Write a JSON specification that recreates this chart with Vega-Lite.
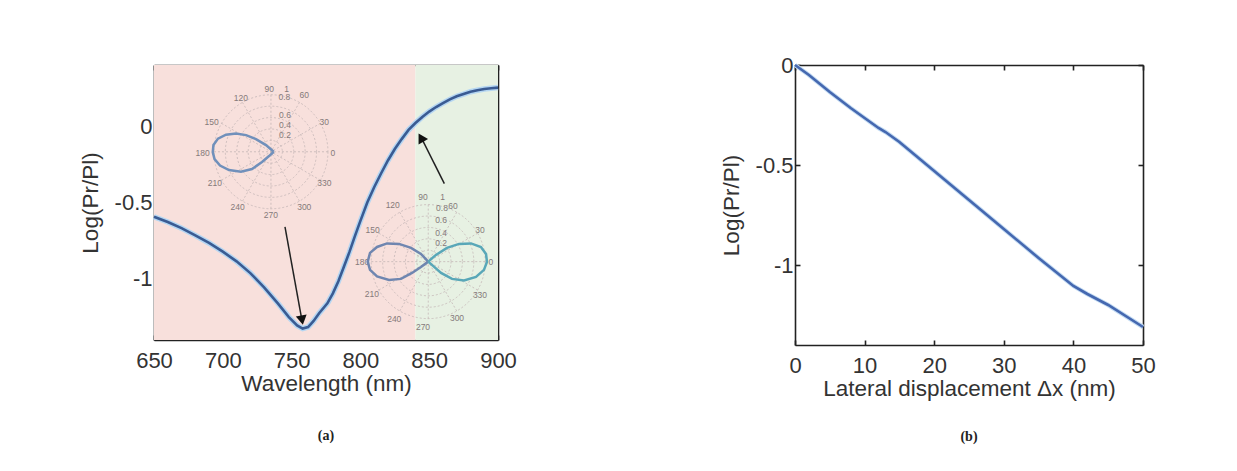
{
  "$schema": "https://vega.github.io/schema/vega-lite/v6.json",
  "padding": {"left": 79, "top": 54, "right": 5, "bottom": 5},
  "background": "white",
  "spacing": 203,
  "datasets": {
    "curveA": [
      {"wl": 650, "logr": -0.593}, {"wl": 660, "logr": -0.628}, {"wl": 670, "logr": -0.668},
      {"wl": 680, "logr": -0.715}, {"wl": 690, "logr": -0.765}, {"wl": 700, "logr": -0.822},
      {"wl": 710, "logr": -0.885}, {"wl": 720, "logr": -0.962}, {"wl": 730, "logr": -1.055},
      {"wl": 740, "logr": -1.16}, {"wl": 748, "logr": -1.25}, {"wl": 754, "logr": -1.305},
      {"wl": 758, "logr": -1.325}, {"wl": 762, "logr": -1.315}, {"wl": 766, "logr": -1.275},
      {"wl": 770, "logr": -1.225}, {"wl": 776, "logr": -1.16}, {"wl": 780, "logr": -1.095},
      {"wl": 784, "logr": -1.015}, {"wl": 788, "logr": -0.92}, {"wl": 792, "logr": -0.825},
      {"wl": 796, "logr": -0.72}, {"wl": 800, "logr": -0.62}, {"wl": 805, "logr": -0.5},
      {"wl": 810, "logr": -0.4}, {"wl": 815, "logr": -0.31}, {"wl": 820, "logr": -0.225},
      {"wl": 825, "logr": -0.15}, {"wl": 830, "logr": -0.085}, {"wl": 835, "logr": -0.025},
      {"wl": 840, "logr": 0.02}, {"wl": 845, "logr": 0.06}, {"wl": 850, "logr": 0.095},
      {"wl": 855, "logr": 0.125}, {"wl": 860, "logr": 0.15}, {"wl": 865, "logr": 0.175},
      {"wl": 870, "logr": 0.195}, {"wl": 875, "logr": 0.21}, {"wl": 880, "logr": 0.225},
      {"wl": 885, "logr": 0.235}, {"wl": 890, "logr": 0.243}, {"wl": 895, "logr": 0.248},
      {"wl": 900, "logr": 0.252}
    ],
    "curveB": [
      {"dx": 0, "logr": 0}, {"dx": 2, "logr": -0.05}, {"dx": 5, "logr": -0.135},
      {"dx": 8, "logr": -0.215}, {"dx": 10, "logr": -0.265}, {"dx": 12, "logr": -0.315},
      {"dx": 13, "logr": -0.335}, {"dx": 15, "logr": -0.385}, {"dx": 20, "logr": -0.53},
      {"dx": 25, "logr": -0.675}, {"dx": 30, "logr": -0.82}, {"dx": 35, "logr": -0.965},
      {"dx": 40, "logr": -1.105}, {"dx": 42, "logr": -1.145}, {"dx": 45, "logr": -1.2},
      {"dx": 50, "logr": -1.31}
    ],
    "regions": [
      {"x1": 650, "x2": 840, "region": "resonant"},
      {"x1": 840, "x2": 900, "region": "transmitted"}
    ],
    "rings": [
      {"inset": "A", "cx": 735.0, "cy": -0.168, "r": 0.2},
      {"inset": "A", "cx": 735.0, "cy": -0.168, "r": 0.4},
      {"inset": "A", "cx": 735.0, "cy": -0.168, "r": 0.6},
      {"inset": "A", "cx": 735.0, "cy": -0.168, "r": 0.8},
      {"inset": "A", "cx": 735.0, "cy": -0.168, "r": 1.0},
      {"inset": "B", "cx": 849.3, "cy": -0.887, "r": 0.2},
      {"inset": "B", "cx": 849.3, "cy": -0.887, "r": 0.4},
      {"inset": "B", "cx": 849.3, "cy": -0.887, "r": 0.6},
      {"inset": "B", "cx": 849.3, "cy": -0.887, "r": 0.8},
      {"inset": "B", "cx": 849.3, "cy": -0.887, "r": 1.0}
    ],
    "spokes": [
      {"x1": 693.6, "y1": -0.168, "x2": 776.4, "y2": -0.168},
      {"x1": 699.1, "y1": -0.354, "x2": 770.9, "y2": 0.018},
      {"x1": 714.3, "y1": -0.491, "x2": 755.7, "y2": 0.155},
      {"x1": 735.0, "y1": -0.541, "x2": 735.0, "y2": 0.205},
      {"x1": 755.7, "y1": -0.491, "x2": 714.3, "y2": 0.155},
      {"x1": 770.9, "y1": -0.354, "x2": 699.1, "y2": 0.018},
      {"x1": 807.9, "y1": -0.887, "x2": 890.7, "y2": -0.887},
      {"x1": 813.4, "y1": -1.073, "x2": 885.2, "y2": -0.701},
      {"x1": 828.6, "y1": -1.21, "x2": 870.0, "y2": -0.564},
      {"x1": 849.3, "y1": -1.26, "x2": 849.3, "y2": -0.514},
      {"x1": 870.0, "y1": -1.21, "x2": 828.6, "y2": -0.564},
      {"x1": 885.2, "y1": -1.073, "x2": 813.4, "y2": -0.701}
    ],
    "polarLabels": [
      {"x": 733.8, "y": 0.246, "label": "90"}, {"x": 713.2, "y": 0.181, "label": "120"},
      {"x": 691.9, "y": 0.028, "label": "150"}, {"x": 685.4, "y": -0.175, "label": "180"},
      {"x": 694.3, "y": -0.375, "label": "210"}, {"x": 710.8, "y": -0.527, "label": "240"},
      {"x": 735.0, "y": -0.582, "label": "270"}, {"x": 759.2, "y": -0.527, "label": "300"},
      {"x": 773.8, "y": -0.375, "label": "330"}, {"x": 779.9, "y": -0.175, "label": "0"},
      {"x": 773.8, "y": 0.028, "label": "30"}, {"x": 759.2, "y": 0.203, "label": "60"},
      {"x": 746.4, "y": 0.246, "label": "1"}, {"x": 744.7, "y": 0.19, "label": "0.8"},
      {"x": 745.2, "y": 0.076, "label": "0.6"}, {"x": 745.2, "y": 0.007, "label": "0.4"},
      {"x": 745.2, "y": -0.059, "label": "0.2"},
      {"x": 845.5, "y": -0.467, "label": "90"}, {"x": 823.5, "y": -0.516, "label": "120"},
      {"x": 808.9, "y": -0.68, "label": "150"}, {"x": 801.2, "y": -0.887, "label": "180"},
      {"x": 808.4, "y": -1.098, "label": "210"}, {"x": 824.6, "y": -1.261, "label": "240"},
      {"x": 845.5, "y": -1.312, "label": "270"}, {"x": 870.2, "y": -1.257, "label": "300"},
      {"x": 886.9, "y": -1.105, "label": "330"}, {"x": 894.9, "y": -0.887, "label": "0"},
      {"x": 886.9, "y": -0.68, "label": "30"}, {"x": 867.3, "y": -0.52, "label": "60"},
      {"x": 859.8, "y": -0.461, "label": "1"}, {"x": 859.3, "y": -0.536, "label": "0.8"},
      {"x": 858.6, "y": -0.614, "label": "0.6"}, {"x": 858.6, "y": -0.697, "label": "0.4"},
      {"x": 858.6, "y": -0.767, "label": "0.2"}
    ],
    "loops": [
      {"loop": "L1", "i": 0, "x": 737.0, "y": -0.168}, {"loop": "L1", "i": 1, "x": 731.4, "y": -0.124},
      {"loop": "L1", "i": 2, "x": 724.1, "y": -0.085}, {"loop": "L1", "i": 3, "x": 716.9, "y": -0.059},
      {"loop": "L1", "i": 4, "x": 709.6, "y": -0.049}, {"loop": "L1", "i": 5, "x": 702.3, "y": -0.056},
      {"loop": "L1", "i": 6, "x": 696.5, "y": -0.082}, {"loop": "L1", "i": 7, "x": 693.2, "y": -0.124},
      {"loop": "L1", "i": 8, "x": 692.7, "y": -0.17}, {"loop": "L1", "i": 9, "x": 694.0, "y": -0.216},
      {"loop": "L1", "i": 10, "x": 698.0, "y": -0.258}, {"loop": "L1", "i": 11, "x": 704.5, "y": -0.288},
      {"loop": "L1", "i": 12, "x": 713.2, "y": -0.299}, {"loop": "L1", "i": 13, "x": 721.2, "y": -0.281},
      {"loop": "L1", "i": 14, "x": 728.5, "y": -0.235}, {"loop": "L1", "i": 15, "x": 733.6, "y": -0.196},
      {"loop": "L1", "i": 16, "x": 737.0, "y": -0.168},
      {"loop": "L2", "i": 0, "x": 849.3, "y": -0.887}, {"loop": "L2", "i": 1, "x": 844.0, "y": -0.837},
      {"loop": "L2", "i": 2, "x": 836.8, "y": -0.797}, {"loop": "L2", "i": 3, "x": 828.1, "y": -0.771},
      {"loop": "L2", "i": 4, "x": 819.3, "y": -0.768}, {"loop": "L2", "i": 5, "x": 812.1, "y": -0.791},
      {"loop": "L2", "i": 6, "x": 807.0, "y": -0.83}, {"loop": "L2", "i": 7, "x": 805.3, "y": -0.887},
      {"loop": "L2", "i": 8, "x": 807.0, "y": -0.941}, {"loop": "L2", "i": 9, "x": 812.1, "y": -0.984},
      {"loop": "L2", "i": 10, "x": 820.8, "y": -1.007}, {"loop": "L2", "i": 11, "x": 829.5, "y": -1.0},
      {"loop": "L2", "i": 12, "x": 837.5, "y": -0.961}, {"loop": "L2", "i": 13, "x": 844.0, "y": -0.922},
      {"loop": "L2", "i": 14, "x": 849.3, "y": -0.887},
      {"loop": "L3", "i": 0, "x": 849.3, "y": -0.887}, {"loop": "L3", "i": 1, "x": 854.9, "y": -0.843},
      {"loop": "L3", "i": 2, "x": 862.9, "y": -0.797}, {"loop": "L3", "i": 3, "x": 871.7, "y": -0.771},
      {"loop": "L3", "i": 4, "x": 880.4, "y": -0.768}, {"loop": "L3", "i": 5, "x": 887.6, "y": -0.791},
      {"loop": "L3", "i": 6, "x": 891.3, "y": -0.837}, {"loop": "L3", "i": 7, "x": 892.0, "y": -0.889},
      {"loop": "L3", "i": 8, "x": 889.8, "y": -0.941}, {"loop": "L3", "i": 9, "x": 884.0, "y": -0.987},
      {"loop": "L3", "i": 10, "x": 875.3, "y": -1.01}, {"loop": "L3", "i": 11, "x": 866.6, "y": -1.0},
      {"loop": "L3", "i": 12, "x": 858.6, "y": -0.961}, {"loop": "L3", "i": 13, "x": 852.8, "y": -0.915},
      {"loop": "L3", "i": 14, "x": 849.3, "y": -0.887}
    ],
    "arrows": [
      {"arrow": "a1", "x1": 745.2, "y1": -0.66, "x2": 757.3, "y2": -1.26},
      {"arrow": "a2", "x1": 861.0, "y1": -0.376, "x2": 844.5, "y2": -0.08}
    ],
    "heads": [
      {"arrow": "a1", "x": 757.6, "y": -1.27},
      {"arrow": "a2", "x": 844.0, "y": -0.075}
    ]
  },
  "hconcat": [
    {
      "width": 344,
      "height": 275,
      "title": {"text": "(a)", "orient": "bottom", "font": "Liberation Serif", "fontWeight": "bold", "fontSize": 14, "color": "#222", "offset": 34, "frame": "group"},
      "layer": [
        {
          "data": {"name": "regions"},
          "mark": {"type": "rect"},
          "encoding": {
            "x": {"field": "x1", "type": "quantitative", "axis": null},
            "x2": {"field": "x2"},
            "y": {"datum": -1.4, "type": "quantitative", "axis": null},
            "y2": {"datum": 0.4},
            "fill": {"field": "region", "type": "nominal", "scale": {"domain": ["resonant", "transmitted"], "range": ["#f8e0dc", "#e7f1e3"]}, "legend": null}
          }
        },
        {
          "data": {"name": "rings"},
          "mark": {"type": "point", "shape": "circle", "filled": false, "stroke": "#c4b6b6", "strokeWidth": 0.8, "strokeDash": [2, 2], "opacity": 1},
          "encoding": {
            "x": {"field": "cx", "type": "quantitative", "axis": null},
            "y": {"field": "cy", "type": "quantitative", "axis": null},
            "size": {"field": "r", "type": "quantitative", "scale": {"type": "pow", "exponent": 2, "domain": [0, 1], "range": [0, 12996]}, "legend": null}
          }
        },
        {
          "data": {"name": "spokes"},
          "mark": {"type": "rule", "stroke": "#c4b6b6", "strokeWidth": 0.8, "strokeDash": [2, 2]},
          "encoding": {
            "x": {"field": "x1", "type": "quantitative", "axis": null},
            "y": {"field": "y1", "type": "quantitative", "axis": null},
            "x2": {"field": "x2"},
            "y2": {"field": "y2"}
          }
        },
        {
          "data": {"name": "polarLabels"},
          "mark": {"type": "text", "fontSize": 8.5, "color": "#857a7a", "font": "Liberation Sans"},
          "encoding": {
            "x": {"field": "x", "type": "quantitative", "axis": null},
            "y": {"field": "y", "type": "quantitative", "axis": null},
            "text": {"field": "label"}
          }
        },
        {
          "data": {"name": "loops"},
          "mark": {"type": "line", "strokeWidth": 2.5, "interpolate": "linear"},
          "encoding": {
            "x": {"field": "x", "type": "quantitative", "axis": null},
            "y": {"field": "y", "type": "quantitative", "axis": null},
            "order": {"field": "i", "type": "quantitative"},
            "stroke": {"field": "loop", "type": "nominal", "scale": {"domain": ["L1", "L2", "L3"], "range": ["#7090bb", "#6f86b0", "#59a7b8"]}, "legend": null}
          }
        },
        {
          "data": {"name": "curveA"},
          "mark": {"type": "line", "color": "#b5d6f2", "strokeWidth": 5.5},
          "encoding": {
            "x": {"field": "wl", "type": "quantitative", "scale": {"domain": [650, 900], "nice": false, "zero": false},
              "axis": {"orient": "bottom", "values": [650, 700, 750, 800, 850, 900], "title": "Wavelength (nm)"}},
            "y": {"field": "logr", "type": "quantitative", "scale": {"domain": [-1.4, 0.4], "nice": false, "zero": false},
              "axis": {"orient": "left", "values": [0, -0.5, -1], "title": "Log(Pr/Pl)", "labelExpr": "datum.value < 0 ? '-' + format(-datum.value, '~g') : format(datum.value, '~g')"}}
          }
        },
        {
          "data": {"name": "curveA"},
          "mark": {"type": "line", "color": "#3a5b93", "strokeWidth": 2.6},
          "encoding": {
            "x": {"field": "wl", "type": "quantitative", "axis": {"orient": "top", "values": [650, 700, 750, 800, 850, 900], "labels": false, "title": null}},
            "y": {"field": "logr", "type": "quantitative", "axis": {"orient": "right", "values": [0, -0.5, -1], "labels": false, "title": null}}
          }
        },
        {
          "data": {"name": "arrows"},
          "mark": {"type": "rule", "stroke": "#222", "strokeWidth": 1.5},
          "encoding": {
            "x": {"field": "x1", "type": "quantitative", "axis": null},
            "y": {"field": "y1", "type": "quantitative", "axis": null},
            "x2": {"field": "x2"},
            "y2": {"field": "y2"}
          }
        },
        {
          "data": {"name": "heads"},
          "transform": [{"filter": "datum.arrow == 'a1'"}],
          "mark": {"type": "point", "shape": "triangle-up", "filled": true, "color": "#111", "size": 120, "angle": 170, "opacity": 1},
          "encoding": {
            "x": {"field": "x", "type": "quantitative", "axis": null},
            "y": {"field": "y", "type": "quantitative", "axis": null}
          }
        },
        {
          "data": {"name": "heads"},
          "transform": [{"filter": "datum.arrow == 'a2'"}],
          "mark": {"type": "point", "shape": "triangle-up", "filled": true, "color": "#111", "size": 120, "angle": 330, "opacity": 1},
          "encoding": {
            "x": {"field": "x", "type": "quantitative", "axis": null},
            "y": {"field": "y", "type": "quantitative", "axis": null}
          }
        }
      ],
      "resolve": {"axis": {"x": "independent", "y": "independent"}}
    },
    {
      "width": 348,
      "height": 280,
      "title": {"text": "(b)", "orient": "bottom", "font": "Liberation Serif", "fontWeight": "bold", "fontSize": 14, "color": "#222", "offset": 30, "frame": "group"},
      "data": {"name": "curveB"},
      "layer": [
        {
          "mark": {"type": "line", "color": "#c4dcf3", "strokeWidth": 4.5},
          "encoding": {
            "x": {"field": "dx", "type": "quantitative", "scale": {"domain": [0, 50], "nice": false, "zero": false},
              "axis": {"orient": "bottom", "values": [0, 10, 20, 30, 40, 50], "title": "Lateral displacement Δx (nm)"}},
            "y": {"field": "logr", "type": "quantitative", "scale": {"domain": [-1.4, 0], "nice": false, "zero": false},
              "axis": {"orient": "left", "values": [0, -0.5, -1], "title": "Log(Pr/Pl)", "labelExpr": "datum.value < 0 ? '-' + format(-datum.value, '~g') : format(datum.value, '~g')"}}
          }
        },
        {
          "mark": {"type": "line", "color": "#4568b0", "strokeWidth": 2.6},
          "encoding": {
            "x": {"field": "dx", "type": "quantitative", "axis": {"orient": "top", "values": [0, 10, 20, 30, 40, 50], "labels": false, "title": null}},
            "y": {"field": "logr", "type": "quantitative", "axis": {"orient": "right", "values": [0, -0.5, -1], "labels": false, "title": null}}
          }
        }
      ],
      "resolve": {"axis": {"x": "independent", "y": "independent"}}
    }
  ],
  "config": {
    "font": "Liberation Sans",
    "view": {"stroke": null},
    "axis": {
      "domainColor": "#222",
      "domainWidth": 1.6,
      "tickColor": "#222",
      "tickWidth": 1.6,
      "tickSize": -5,
      "labelFont": "Liberation Sans",
      "labelFontSize": 22,
      "labelColor": "#333",
      "labelFlush": false,
      "titleFont": "Liberation Sans",
      "titleFontSize": 22.5,
      "titleColor": "#333",
      "titleFontWeight": "normal",
      "grid": false
    },
    "axisX": {"labelPadding": 15, "titlePadding": 1},
    "axisY": {"labelPadding": 7, "titlePadding": 12}
  }
}
